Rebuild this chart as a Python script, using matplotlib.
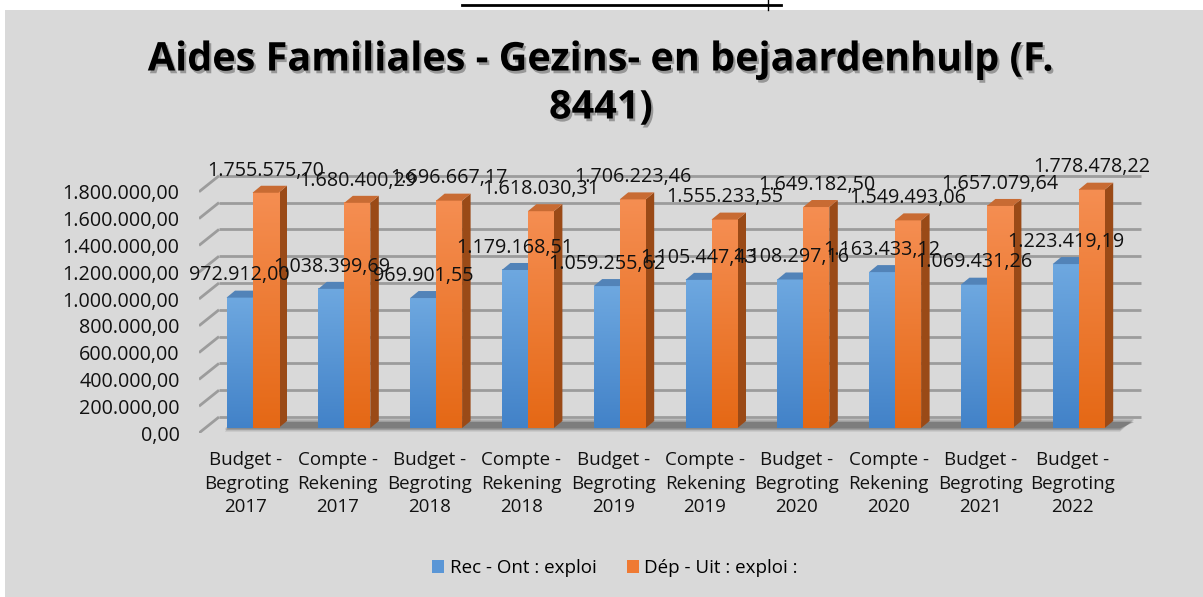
import matplotlib
matplotlib.use("Agg")
import matplotlib.pyplot as plt
import matplotlib.patheffects as pe
import numpy as np
from matplotlib.colors import LinearSegmentedColormap
from matplotlib.patches import Polygon, Rectangle
from matplotlib.lines import Line2D
from matplotlib.transforms import ScaledTranslation

# data
categories = [
    "Budget -\nBegroting\n2017", "Compte -\nRekening\n2017",
    "Budget -\nBegroting\n2018", "Compte -\nRekening\n2018",
    "Budget -\nBegroting\n2019", "Compte -\nRekening\n2019",
    "Budget -\nBegroting\n2020", "Compte -\nRekening\n2020",
    "Budget -\nBegroting\n2021", "Budget -\nBegroting\n2022",
]
recettes = [972912.00, 1038399.69, 969901.55, 1179168.51, 1059255.62,
            1105447.43, 1108297.16, 1163433.12, 1069431.26, 1223419.19]
depenses = [1755575.70, 1680400.29, 1696667.17, 1618030.31, 1706223.46,
            1555233.55, 1649182.50, 1549493.06, 1657079.64, 1778478.22]
yticks = [0, 200000, 400000, 600000, 800000, 1000000, 1200000, 1400000, 1600000, 1800000]
series_names = ["Rec - Ont : exploi", "Dép - Uit : exploi :"]

FONT = "Open Sans"
plt.rcParams["font.family"] = FONT


def fmt(v):
    s = f"{v:,.2f}"
    return s.replace(",", "X").replace(".", ",").replace("X", ".")


W, H = 1203, 597
fig = plt.figure(figsize=(W / 100, H / 100), dpi=100, facecolor="white")
fig.add_artist(Rectangle((5 / W, 0), 1 - 5 / W, (H - 10) / H, transform=fig.transFigure,
                         facecolor="#d9d9d9", edgecolor="none", zorder=-10))
fig.add_artist(Line2D([462 / W, 781 / W], [1 - 5 / H, 1 - 5 / H], transform=fig.transFigure,
                      color="black", lw=2))
fig.add_artist(Line2D([768 / W, 768 / W], [1 - 10 / H, 1.0], transform=fig.transFigure,
                      color="black", lw=1))

# axes placement (pixels)
left_px, right_px, bot_px, top_px = 199, 1160, 433, 150
ax = fig.add_axes([left_px / W, 1 - bot_px / H, (right_px - left_px) / W, (bot_px - top_px) / H])
ax.set_facecolor("none")

px_x = 91.8          # pixels per category
px_y = 134e-6        # pixels per unit value
x0 = (left_px - 252.5) / px_x
x1 = (right_px - 252.5) / px_x
ymax = (bot_px - top_px) / px_y

def ux(p):
    return p / px_x

def uy(p):
    return p / px_y

wall_dx, wall_dy = ux(20), uy(16)
bar_off = uy(5)
dep_dx, dep_dy = ux(8.5), uy(7)
bw = ux(26)
grid_right = (1141 - 252.5) / px_x

# grid: front edge diagonals + back wall lines
for v in yticks:
    ax.plot([x0, x0 + wall_dx], [v, v + wall_dy], color="#9c9c9c", lw=2, zorder=1,
            solid_capstyle="butt")
    ax.plot([x0 + wall_dx, grid_right], [v + wall_dy, v + wall_dy], color="#9c9c9c", lw=2,
            zorder=1, solid_capstyle="butt")

# floor shadow
n = len(categories)
fl_l, fl_r = -0.30, n - 1 + 0.45
for k, a in enumerate([0.18, 0.22, 0.3]):
    shrink = k * uy(1.5)
    ax.add_patch(Polygon([(fl_l, bar_off * 0.3 + shrink), (fl_r, bar_off * 0.3 + shrink),
                          (fl_r + ux(14), bar_off + dep_dy + uy(2) - shrink),
                          (fl_l + ux(10), bar_off + dep_dy + uy(2) - shrink)],
                         closed=True, facecolor="#333333", edgecolor="none", alpha=a, zorder=1.5))

blue_cmap = LinearSegmentedColormap.from_list("b", ["#4282c8", "#6ea8e0"])
orange_cmap = LinearSegmentedColormap.from_list("o", ["#e56815", "#f58e52"])
grad = np.linspace(0, 1, 256).reshape(-1, 1)

def draw_bar(xc, val, cmap, side_col, top_col, z):
    xl, xr = xc - bw / 2, xc + bw / 2
    yb, yt = bar_off, bar_off + val
    ax.add_patch(Polygon([(xr, yb), (xr + dep_dx, yb + dep_dy), (xr + dep_dx, yt + dep_dy), (xr, yt)],
                         closed=True, facecolor=side_col, edgecolor="none", zorder=z))
    ax.imshow(grad, extent=[xl, xr, yb, yt], origin="lower", cmap=cmap, aspect="auto",
              interpolation="bilinear", zorder=z + 0.1)
    ax.add_patch(Polygon([(xl, yt), (xr, yt), (xr + dep_dx, yt + dep_dy), (xl + dep_dx, yt + dep_dy)],
                         closed=True, facecolor=top_col, edgecolor="none", zorder=z + 0.2))

x = np.arange(n)
for i in range(n):
    draw_bar(x[i] - bw / 2, recettes[i], blue_cmap, "#3b6a9c", "#5283b8", 2 + i * 0.01)
    draw_bar(x[i] + bw / 2, depenses[i], orange_cmap, "#9a4a17", "#c86b33", 2.5 + i * 0.01)

for i in range(n):
    ax.annotate(fmt(recettes[i]), (x[i] - bw / 2, bar_off + recettes[i]), xytext=(0, 16),
                textcoords="offset points", ha="center", va="center", fontsize=14.2,
                color="#111111", zorder=10)
    ax.annotate(fmt(depenses[i]), (x[i] + bw / 2, bar_off + depenses[i]), xytext=(0, 16),
                textcoords="offset points", ha="center", va="center", fontsize=14.2,
                color="#111111", zorder=10)

ax.set_xlim(x0, x1)
ax.set_ylim(0, ymax)
ax.set_xticks(x)
ax.set_xticklabels(categories, fontsize=13.5, linespacing=1.4, color="#111111")
ax.set_yticks(yticks)
ax.set_yticklabels([fmt(v) for v in yticks], fontsize=14.2, color="#111111")
ax.tick_params(axis="y", length=0, pad=14)
ax.tick_params(axis="x", length=0, pad=13)
for lbl in ax.get_xticklabels():
    lbl.set_transform(lbl.get_transform() + ScaledTranslation(-6.5 / 100, 0, fig.dpi_scale_trans))
for s in ax.spines.values():
    s.set_visible(False)

handles = [Rectangle((0, 0), 1, 1, facecolor="#5a96d6"), Rectangle((0, 0), 1, 1, facecolor="#ef7a33")]
fig.legend(handles, series_names, loc="center", bbox_to_anchor=(615 / W, 1 - 568 / H), ncol=2,
           frameon=False, fontsize=13.5, handlelength=0.65, handleheight=0.65,
           handletextpad=0.3, columnspacing=1.6)

fig.text(601 / W, 1 - 84 / H, "Aides Familiales - Gezins- en bejaardenhulp (F.\n8441)",
         ha="center", va="center", fontsize=28.5, fontweight="bold", color="black",
         family=FONT, multialignment="center", linespacing=1.3,
         path_effects=[pe.withSimplePatchShadow(offset=(1.5, -2), shadow_rgbFace="black", alpha=0.3)])

fig.savefig("out.png", dpi=100, facecolor=fig.get_facecolor())
